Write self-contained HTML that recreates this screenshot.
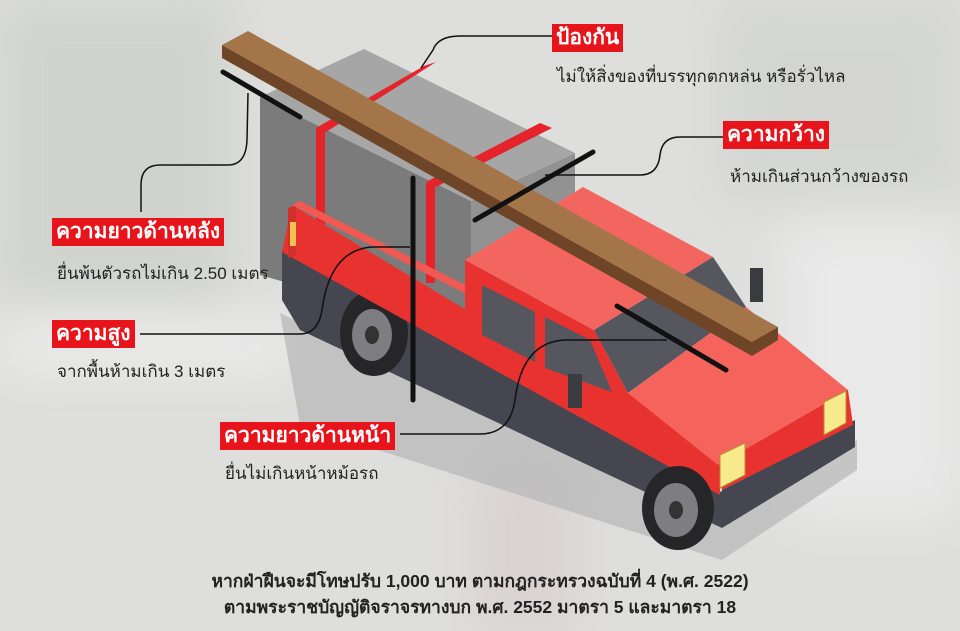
<!DOCTYPE html>
<html><head><meta charset="utf-8"><style>
html,body{margin:0;padding:0}
body{width:960px;height:631px;overflow:hidden;position:relative;background:#dedede;font-family:"Liberation Sans","Noto Sans CJK SC",sans-serif}
svg{position:absolute;left:0;top:0}
.lab{position:absolute;background:#e8141b;color:#fff;font-weight:bold;font-size:21px;line-height:28px;padding:0 4px;white-space:nowrap}
.sub{position:absolute;color:#222;font-size:17px;white-space:nowrap}
.bot{position:absolute;left:0;width:960px;text-align:center;color:#222;font-weight:bold;font-size:17.5px}
</style></head><body>
<svg width="960" height="631" viewBox="0 0 960 631">
<defs><filter id="b"><feGaussianBlur stdDeviation="25"/></filter></defs>
<rect x="0" y="0" width="960" height="631" fill="#dededd"/>
<g filter="url(#b)" opacity="0.8">
<rect x="0" y="0" width="230" height="300" fill="#cdd0ca"/>
<rect x="720" y="0" width="240" height="200" fill="#d2d4cf"/>
<rect x="0" y="320" width="300" height="50" fill="#f0f0f0"/>
<rect x="780" y="220" width="180" height="300" fill="#ececec"/>
<rect x="480" y="460" width="90" height="171" fill="#d8cfcd"/>
</g>
<!-- shadow -->
<polygon points="280,313 500,420 720,520 857,440 857,470 722,560 300,425" fill="#b8b8ba" opacity="0.75"/>
<!-- box -->
<polygon points="260,97 471,201 471,335 260,275" fill="#7b7b7b"/>
<polygon points="471,201 575,153 575,282 471,335" fill="#929292"/>
<polygon points="260,97 364,49 575,153 471,201" fill="#a6a6a6"/>
<!-- straps -->
<polygon points="316,128 424,66 436,62 326,132" fill="#e5232a"/>
<rect x="316" y="128" width="9" height="100" fill="#e5232a"/>
<polygon points="426,182 540,123 552,128 436,187" fill="#e5232a"/>
<rect x="426" y="183" width="9" height="100" fill="#e5232a"/>
<!-- dark lower strip -->
<polygon points="282,250 720,492 855,420 855,447 722,528 300,330 282,300" fill="#45464f"/>
<!-- rear wheel -->
<ellipse cx="374" cy="333" rx="34" ry="43" fill="#262629"/>
<ellipse cx="372" cy="335" rx="20" ry="26" fill="#7d7d82"/>
<ellipse cx="372" cy="335" rx="7" ry="9" fill="#333"/>
<!-- red body near side -->
<polygon points="292,205 720,463 720,495 282,252" fill="#e8322f"/>
<polygon points="288,208 296,206 296,255 288,258" fill="#d0302c"/>
<rect x="290" y="222" width="6" height="24" fill="#f2c14e"/>
<polygon points="292,205 300,201 475,290 466,294" fill="#f05a52"/>
<!-- cabin side -->
<polygon points="465,260 594,330 628,393 720,463 465,310" fill="#e8322f"/>
<polygon points="465,260 583,187 713,257 594,330" fill="#f36660"/>
<polygon points="594,330 713,257 746,307 628,393" fill="#55565e"/>
<polygon points="628,393 746,307 848,390 718,465" fill="#f5645c"/>
<polygon points="718,465 848,390 853,425 722,490" fill="#e8322f"/>
<polygon points="722,490 853,425 853,447 722,520" fill="#45464f"/>
<polygon points="720,455 745,443 745,475 720,488" fill="#f6ea8c" stroke="#b98e2a"/>
<polygon points="824,402 846,391 846,423 824,435" fill="#f6ea8c" stroke="#b98e2a"/>
<!-- side windows -->
<polygon points="482,285 535,312 535,362 482,335" fill="#55565e"/>
<polygon points="545,317 590,340 612,392 545,368" fill="#55565e"/>
<!-- mirrors -->
<rect x="568" y="374" width="14" height="34" fill="#3a3b41"/>
<rect x="750" y="268" width="13" height="34" fill="#3a3b41"/>
<!-- front wheel -->
<ellipse cx="678" cy="508" rx="36" ry="42" fill="#262629"/>
<ellipse cx="676" cy="510" rx="22" ry="27" fill="#7d7d82"/>
<ellipse cx="676" cy="510" rx="7" ry="9" fill="#333"/>
<!-- board -->
<polygon points="222,45 752,342 752,356 222,58" fill="#6e4526"/>
<polygon points="222,45 248,31 778,327 752,342" fill="#a47549"/>
<polygon points="752,342 778,327 778,340 752,356" fill="#6e4526"/>
<!-- thick marker lines -->
<g stroke="#111" stroke-width="5" stroke-linecap="round">
<line x1="223" y1="72" x2="300" y2="117"/>
<line x1="413" y1="178" x2="413" y2="400"/>
<line x1="475" y1="220" x2="593" y2="152"/>
<line x1="617" y1="306" x2="726" y2="370"/>
</g>
<!-- leader lines -->
<g stroke="#111" stroke-width="1.5" fill="none">
<path d="M553,36 H460 Q438,36 433,50 L421,68"/>
<path d="M723,137 H680 Q662,137 660,155 Q658,175 640,175 H545"/>
<path d="M141,212 V185 Q141,165 160,165 H228 Q246,165 247,140 L248,93"/>
<path d="M140,334 H300 Q318,334 322,310 Q330,250 372,247 H410"/>
<path d="M400,434 H480 Q510,434 515,400 Q522,342 565,340 H667"/>
</g>
</svg>
<div class="lab" style="left:552px;top:24px">ป้องกัน</div>
<div class="sub" style="left:557px;top:63px">ไม่ให้สิ่งของที่บรรทุกตกหล่น หรือรั่วไหล</div>
<div class="lab" style="left:723px;top:121px">ความกว้าง</div>
<div class="sub" style="left:730px;top:163px">ห้ามเกินส่วนกว้างของรถ</div>
<div class="lab" style="left:52px;top:218px">ความยาวด้านหลัง</div>
<div class="sub" style="left:57px;top:260px">ยื่นพ้นตัวรถไม่เกิน 2.50 เมตร</div>
<div class="lab" style="left:52px;top:320px">ความสูง</div>
<div class="sub" style="left:57px;top:358px">จากพื้นห้ามเกิน 3 เมตร</div>
<div class="lab" style="left:220px;top:422px">ความยาวด้านหน้า</div>
<div class="sub" style="left:225px;top:460px">ยื่นไม่เกินหน้าหม้อรถ</div>
<div class="bot" style="top:567px">หากฝ่าฝืนจะมีโทษปรับ 1,000 บาท ตามกฎกระทรวงฉบับที่ 4 (พ.ศ. 2522)</div>
<div class="bot" style="top:593px">ตามพระราชบัญญัติจราจรทางบก พ.ศ. 2552 มาตรา 5 และมาตรา 18</div>
</body></html>
